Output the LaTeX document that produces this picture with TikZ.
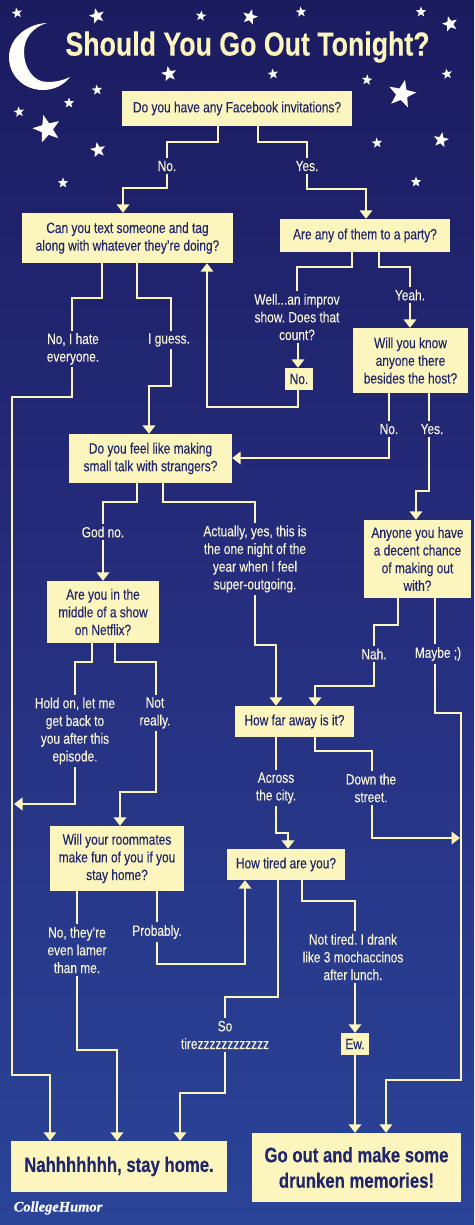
\documentclass[tikz,border=0pt]{standalone}
\usepackage{fontspec}
\setmainfont{Liberation Sans}[FakeStretch=0.8,FakeBold=0.25]
\newfontfamily\logofont{Liberation Serif}[FakeBold=0.6]
\usetikzlibrary{arrows.meta,shapes.geometric}
\definecolor{cream}{HTML}{FCF6BE}
\definecolor{ink}{HTML}{20266C}
\definecolor{labtext}{HTML}{F7F3D6}
\definecolor{skytop}{HTML}{1B1B60}
\definecolor{skymid}{HTML}{262E7E}
\definecolor{skybot}{HTML}{2A4498}
\tikzset{
  qbox/.style={fill=cream,text=ink,inner sep=0pt,align=center,font=\fontsize{14.9}{17.7}\selectfont},
  bigbox/.style={fill=cream,text=ink,inner sep=0pt,align=center,font=\fontsize{20.9}{25.5}\selectfont\bfseries},
  lab/.style={text=labtext,inner xsep=0pt,inner ysep=2.5pt,align=center,font=\fontsize{14.9}{17.7}\selectfont},
  conn/.style={draw=cream,line width=2.9pt,miter limit=10},
  arr/.style={conn,-{Triangle[width=12.5pt,length=8.5pt]}},
  starS/.style={star,star points=5,star point ratio=2.4,fill=white,draw=none,inner sep=0pt,minimum size=11pt},
  starM/.style={starS,minimum size=16pt},
  starL/.style={starS,minimum size=29pt},
}
\begin{document}
\frenchspacing
\begin{tikzpicture}[x=1pt,y=-1pt]
\shade[top color=skytop,bottom color=skybot,middle color=skymid] (0,0) rectangle (474,1225);
\path[use as bounding box] (0,0) rectangle (474,1225);
% moon
\fill[white!96!cream] (47,23) .. controls (25,24) and (9,40) .. (9,57) .. controls (9,76) and (24,90) .. (43,90) .. controls (54,90) and (64,85) .. (70,77) .. controls (62,81) and (54,82) .. (47,82) .. controls (33,82) and (24,67) .. (24,52) .. controls (24,38) and (33,27) .. (47,23) -- cycle;
% stars
\foreach \px/\py/\rot in {17/13/10,201/16/-8,301/12/5,421/12/0,273/74/8,367/80/-6,447/74/10,97/90/5,69/103/0,19/112/8,377/143/5,63/183/0,416/182/0}
  \node[starS,rotate=\rot] at (\px,\py) {};
\foreach \px/\py/\rot in {97/16/15,250/17/-15,450/24/15,169/74/10,441/140/-10,98/150/10}
  \node[starM,rotate=\rot] at (\px,\py) {};
\foreach \px/\py/\rot in {402/94/-12,47/129/15}
  \node[starL,rotate=\rot] at (\px,\py) {};
% title
\node[text=cream,inner sep=0pt,font=\fontsize{33.4}{36}\selectfont\bfseries] (title) at (247.5,47) {Should You Go Out Tonight?};
% question boxes
\node[qbox,minimum width=230,minimum height=35] (q1) at (237,108.5) {Do you have any Facebook invitations?};
\node[qbox,minimum width=211,minimum height=50] (q2) at (127.5,238) {Can you text someone and tag\\along with whatever they’re doing?};
\node[qbox,minimum width=170,minimum height=33] (q3) at (365,235.5) {Are any of them to a party?};
\node[qbox,minimum width=28,minimum height=22] (qno) at (299,379) {No.};
\node[qbox,minimum width=115,minimum height=65] (q4) at (410.5,360.5) {Will you know\\anyone there\\besides the host?};
\node[qbox,minimum width=163,minimum height=49] (q5) at (150.5,458.5) {Do you feel like making\\small talk with strangers?};
\node[qbox,minimum width=112,minimum height=62] (q6) at (103,612) {Are you in the\\middle of a show\\on Netflix?};
\node[qbox,minimum width=107,minimum height=78] (q7) at (417.5,559) {Anyone you have\\a decent chance\\of making out\\with?};
\node[qbox,minimum width=119,minimum height=31] (q8) at (294.5,721.5) {How far away is it?};
\node[qbox,minimum width=134,minimum height=65] (q9) at (117,858.5) {Will your roommates\\make fun of you if you\\stay home?};
\node[qbox,minimum width=118,minimum height=31] (q10) at (286,864.5) {How tired are you?};
\node[qbox,minimum width=28,minimum height=22] (ew) at (355,1044) {Ew.};
\node[bigbox,minimum width=216,minimum height=51] (stay) at (119,1166.5) {Nahhhhhhh, stay home.};
\node[bigbox,minimum width=209,minimum height=69] (go) at (356.5,1167.5) {Go out and make some\\drunken memories!};
% labels
\node[lab] (l1) at (167,166) {No.};
\node[lab] (l2) at (307,166) {Yes.};
\node[lab] (l3) at (73,349) {No, I hate\\everyone.};
\node[lab] (l4) at (169,340) {I guess.};
\node[lab] (l5) at (297,317) {Well...an improv\\show. Does that\\count?};
\node[lab] (l6) at (410,295) {Yeah.};
\node[lab] (l7) at (389,429) {No.};
\node[lab] (l8) at (432,429) {Yes.};
\node[lab] (l9) at (103,532) {God no.};
\node[lab] (l10) at (255,559) {Actually, yes, this is\\the one night of the\\year when I feel\\super-outgoing.};
\node[lab] (l11) at (75,731) {Hold on, let me\\get back to\\you after this\\episode.};
\node[lab] (l12) at (155,713) {Not\\really.};
\node[lab] (l13) at (374,654) {Nah.};
\node[lab] (l14) at (438,654) {Maybe ;)};
\node[lab] (l15) at (276,788) {Across\\the city.};
\node[lab] (l16) at (371,788) {Down the\\street.};
\node[lab] (l17) at (77,950) {No, they’re\\even lamer\\than me.};
\node[lab] (l18) at (157,932) {Probably.};
\node[lab] (l19) at (225,1035) {So\\tirezzzzzzzzzzzz};
\node[lab] (l20) at (353,957) {Not tired. I drank\\like 3 mochaccinos\\after lunch.};
% logo
\node[text=white,inner sep=0pt,font=\fontsize{14.5}{17}\logofont\bfseries\itshape] (logo) at (58,1208) {CollegeHumor};
% connectors
\draw[conn] (218,0 |- q1.south) -- (218,142) -- (167,142) -- (167,0 |- l1.north);
\draw[arr] (167,0 |- l1.south) -- (167,188) -- (123,188) -- (123,0 |- q2.north);
\draw[conn] (258,0 |- q1.south) -- (258,142) -- (307,142) -- (307,0 |- l2.north);
\draw[arr] (307,0 |- l2.south) -- (307,189) -- (366,189) -- (366,0 |- q3.north);
\draw[conn] (102,0 |- q2.south) -- (102,298) -- (72,298) -- (72,0 |- l3.north);
\draw[arr] (72,0 |- l3.south) -- (72,397) -- (12,397) -- (12,1075) -- (50,1075) -- (50,0 |- stay.north);
\draw[conn] (137,0 |- q2.south) -- (137,298) -- (171,298) -- (171,0 |- l4.north);
\draw[arr] (171,0 |- l4.south) -- (171,386) -- (149,386) -- (149,0 |- q5.north);
\draw[conn] (352,0 |- q3.south) -- (352,267) -- (297,267) -- (297,0 |- l5.north);
\draw[arr] (298,0 |- l5.south) -- (298,0 |- qno.north);
\draw[arr] (298,0 |- qno.south) -- (298,407) -- (207,407) -- (207,0 |- q2.south);
\draw[conn] (379,0 |- q3.south) -- (379,267) -- (410,267) -- (410,0 |- l6.north);
\draw[arr] (410,0 |- l6.south) -- (410,0 |- q4.north);
\draw[conn] (389,0 |- q4.south) -- (389,0 |- l7.north);
\draw[arr] (389,0 |- l7.south) -- (389,458) -- (q5.east |- 0,458);
\draw[conn] (429,0 |- q4.south) -- (429,0 |- l8.north);
\draw[arr] (429,0 |- l8.south) -- (429,491) -- (416,491) -- (416,0 |- q7.north);
\draw[conn] (137,0 |- q5.south) -- (137,502) -- (103,502) -- (103,0 |- l9.north);
\draw[arr] (103,0 |- l9.south) -- (103,0 |- q6.north);
\draw[conn] (163,0 |- q5.south) -- (163,502) -- (255,502) -- (255,0 |- l10.north);
\draw[arr] (255,0 |- l10.south) -- (255,645) -- (276,645) -- (276,0 |- q8.north);
\draw[conn] (92,0 |- q6.south) -- (92,662) -- (75,662) -- (75,0 |- l11.north);
\draw[arr] (75,0 |- l11.south) -- (75,804) -- (14,804);
\draw[conn] (115,0 |- q6.south) -- (115,662) -- (156,662) -- (156,0 |- l12.north);
\draw[arr] (156,0 |- l12.south) -- (156,792) -- (120,792) -- (120,0 |- q9.north);
\draw[conn] (398,0 |- q7.south) -- (398,625) -- (374,625) -- (374,0 |- l13.north);
\draw[arr] (374,0 |- l13.south) -- (374,686) -- (315,686) -- (315,0 |- q8.north);
\draw[conn] (435,0 |- q7.south) -- (435,0 |- l14.north);
\draw[arr] (435,0 |- l14.south) -- (435,713) -- (461,713) -- (461,1080) -- (386,1080) -- (386,0 |- go.north);
\draw[conn] (276,0 |- q8.south) -- (276,0 |- l15.north);
\draw[arr] (276,0 |- l15.south) -- (276,833) -- (288,833) -- (288,0 |- q10.north);
\draw[conn] (315,0 |- q8.south) -- (315,751) -- (372,751) -- (372,0 |- l16.north);
\draw[arr] (372,0 |- l16.south) -- (372,838) -- (460,838);
\draw[conn] (77,0 |- q9.south) -- (77,0 |- l17.north);
\draw[arr] (77,0 |- l17.south) -- (77,1050) -- (117,1050) -- (117,0 |- stay.north);
\draw[conn] (157,0 |- q9.south) -- (157,0 |- l18.north);
\draw[arr] (157,0 |- l18.south) -- (157,964) -- (245,964) -- (245,0 |- q10.south);
\draw[conn] (278,0 |- q10.south) -- (278,997) -- (225,997) -- (225,0 |- l19.north);
\draw[arr] (225,0 |- l19.south) -- (225,1093) -- (180,1093) -- (180,0 |- stay.north);
\draw[conn] (302,0 |- q10.south) -- (302,901) -- (355,901) -- (355,0 |- l20.north);
\draw[arr] (355,0 |- l20.south) -- (355,0 |- ew.north);
\draw[arr] (355,0 |- ew.south) -- (355,0 |- go.north);
\end{tikzpicture}
\end{document}
